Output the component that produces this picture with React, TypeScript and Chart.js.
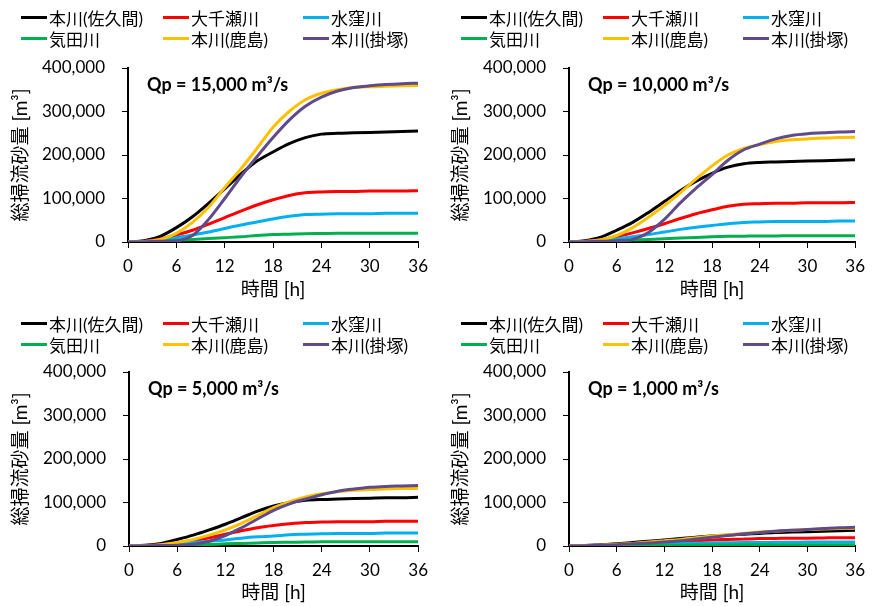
import React, { useEffect, useRef } from 'react';
import { Chart, registerables } from 'chart.js';

Chart.register(...registerables);

const HOURS = [0, 2, 4, 6, 8, 10, 12, 14, 16, 18, 20, 22, 24, 26, 28, 30, 32, 34, 36];
const SERIES_NAMES = ['本川(佐久間)', '大千瀬川', '水窪川', '気田川', '本川(鹿島)', '本川(掛塚)'];
const SERIES_COLORS = ['#000000', '#FF0000', '#00B0F0', '#00B050', '#FFC000', '#5F4B8B'];
const PANEL_LABELS = ['Qp = 15,000 m³/s', 'Qp = 10,000 m³/s', 'Qp = 5,000 m³/s', 'Qp = 1,000 m³/s'];
const Y_TITLE = '総掃流砂量 [m³]';
const X_TITLE = '時間 [h]';

// Qp = 15,000
const q15Sakuma = [0, 3000, 13000, 33000, 58000, 89000, 122000, 156000, 186000, 207000, 226000, 240000, 248000, 250000, 251000, 252000, 253000, 254000, 255000];
const q15Osenze = [0, 2000, 7000, 16000, 27000, 41000, 56000, 71000, 85000, 97000, 107000, 113000, 115000, 116000, 116000, 117000, 117000, 117000, 118000];
const q15Misakubo = [0, 1000, 4000, 10000, 16000, 23000, 31000, 39000, 46000, 53000, 59000, 63000, 64000, 65000, 65000, 65000, 66000, 66000, 66000];
const q15Keta = [0, 500, 2000, 4000, 6000, 8000, 10000, 12000, 15000, 17000, 18000, 19000, 19500, 20000, 20000, 20000, 20000, 20000, 20000];
const q15Kashima = [0, 1000, 6000, 20000, 45000, 80000, 125000, 168000, 215000, 264000, 300000, 327000, 342000, 350000, 355000, 357000, 358000, 359000, 360000];
const q15Kakezuka = [0, 500, 1500, 3000, 15000, 52000, 100000, 150000, 196000, 240000, 280000, 312000, 333000, 347000, 355000, 359000, 362000, 364000, 365000];

// Qp = 10,000
const q10Sakuma = [0, 3000, 11000, 27000, 45000, 68000, 93000, 118000, 140000, 158000, 172000, 180000, 183000, 184000, 185000, 186000, 187000, 188000, 189000];
const q10Osenze = [0, 1000, 5000, 12000, 21000, 31000, 42000, 54000, 65000, 74000, 82000, 87000, 88000, 89000, 89000, 90000, 90000, 90000, 91000];
const q10Misakubo = [0, 1000, 3000, 7000, 12000, 17000, 23000, 29000, 34000, 38000, 42000, 45000, 46000, 47000, 47000, 47000, 47000, 48000, 48000];
const q10Keta = [0, 300, 1000, 3000, 4500, 6000, 7500, 9000, 10500, 12000, 13000, 13500, 14000, 14000, 14500, 14500, 14500, 14500, 14500];
const q10Kashima = [0, 1000, 5000, 15000, 33000, 57000, 84000, 113000, 145000, 175000, 200000, 215000, 224000, 231000, 235000, 237000, 239000, 240000, 241000];
const q10Kakezuka = [0, 500, 1500, 3000, 6000, 22000, 52000, 90000, 124000, 155000, 188000, 212000, 225000, 237000, 245000, 249000, 251000, 253000, 254000];

// Qp = 5,000
const q5Sakuma = [0, 1500, 6000, 15000, 25000, 37000, 50000, 65000, 80000, 92000, 100000, 105000, 107000, 108000, 109000, 110000, 111000, 111000, 112000];
const q5Osenze = [0, 1000, 3000, 7000, 12000, 19000, 27000, 35000, 42000, 47000, 51000, 54000, 55000, 56000, 56000, 56000, 57000, 57000, 57000];
const q5Misakubo = [0, 500, 2000, 5000, 8000, 11000, 14000, 18000, 21000, 23000, 26000, 27000, 28000, 29000, 29000, 29000, 30000, 30000, 30000];
const q5Keta = [0, 200, 700, 1500, 2500, 3500, 5000, 6000, 7000, 8000, 8500, 9000, 9500, 10000, 10000, 10000, 10000, 10000, 10000];
const q5Kashima = [0, 1000, 3000, 8000, 15000, 25000, 37000, 52000, 70000, 88000, 102000, 113000, 120000, 125000, 128000, 130000, 131000, 132000, 132000];
const q5Kakezuka = [0, 300, 1000, 2000, 4000, 11000, 24000, 42000, 62000, 82000, 97000, 108000, 118000, 126000, 131000, 135000, 137000, 138000, 139000];

// Qp = 1,000
const q1Sakuma = [0, 1000, 3000, 5000, 8000, 11000, 14000, 17000, 20000, 23000, 25000, 27000, 29000, 31000, 32000, 33000, 34000, 35000, 36000];
const q1Osenze = [0, 500, 1000, 2000, 4000, 6000, 8000, 10000, 12000, 14000, 15000, 16000, 17000, 17500, 18000, 18000, 18500, 19000, 19000];
const q1Misakubo = [0, 300, 800, 1500, 2500, 3500, 4500, 5500, 6500, 7000, 7500, 8000, 8000, 8500, 8500, 9000, 9000, 9000, 9000];
const q1Keta = [0, 100, 300, 600, 1000, 1300, 1600, 1900, 2100, 2300, 2500, 2600, 2700, 2800, 2900, 3000, 3000, 3000, 3000];
const q1Kashima = [0, 1000, 2000, 4000, 6000, 9000, 12000, 15000, 19000, 23000, 26000, 29000, 32000, 34000, 36000, 38000, 39000, 40000, 41000];
const q1Kakezuka = [0, 500, 1500, 3000, 5000, 7000, 9000, 12000, 16000, 20000, 24000, 28000, 31000, 34000, 36000, 38000, 40000, 42000, 43000];

const PANEL_SERIES = [
  [q15Sakuma, q15Osenze, q15Misakubo, q15Keta, q15Kashima, q15Kakezuka],
  [q10Sakuma, q10Osenze, q10Misakubo, q10Keta, q10Kashima, q10Kakezuka],
  [q5Sakuma, q5Osenze, q5Misakubo, q5Keta, q5Kashima, q5Kakezuka],
  [q1Sakuma, q1Osenze, q1Misakubo, q1Keta, q1Kashima, q1Kakezuka],
];

const FONT = 'Lato, "Noto Sans CJK JP", sans-serif';

const LAYOUTS = [
  { left: 0, top: 0, width: 436, height: 303, plotLeft: 128, plotRight: 422, plotTop: 68, plotBottom: 242, legendY: 17 },
  { left: 440, top: 0, width: 433, height: 303, plotLeft: 569, plotRight: 862, plotTop: 68, plotBottom: 242, legendY: 17 },
  { left: 0, top: 303, width: 436, height: 303, plotLeft: 129, plotRight: 422, plotTop: 372, plotBottom: 546, legendY: 323 },
  { left: 440, top: 303, width: 433, height: 303, plotLeft: 569, plotRight: 862, plotTop: 372, plotBottom: 546, legendY: 323 },
];

const qpPlugin = {
  id: 'qpLabel',
  afterDraw(chart: any, _args: any, opts: any) {
    const { ctx, chartArea } = chart;
    ctx.save();
    ctx.font = `bold 18px ${FONT}`;
    ctx.fillStyle = '#000';
    ctx.textBaseline = 'middle';
    ctx.textAlign = 'left';
    ctx.fillText(opts.text, chartArea.left + 19, chartArea.top + 17);
    ctx.restore();
  },
};

function Panel({ index }: { index: number }) {
  const ref = useRef<HTMLCanvasElement | null>(null);
  const L = LAYOUTS[index];
  useEffect(() => {
    if (!ref.current) return;
    const series = PANEL_SERIES[index];
    const yWidth = L.plotLeft - L.left;
    const xHeight = L.top + L.height - L.plotBottom;
    const chart = new Chart(ref.current, {
      type: 'line',
      data: {
        datasets: series.map((vals, i) => ({
          label: SERIES_NAMES[i],
          data: HOURS.map((h, k) => ({ x: h, y: vals[k] })),
          borderColor: SERIES_COLORS[i],
          backgroundColor: SERIES_COLORS[i],
          borderWidth: 3,
          pointRadius: 0,
          cubicInterpolationMode: 'monotone' as const,
          fill: false,
          order: 6 - i,
        })),
      },
      options: {
        responsive: false,
        animation: false,
        events: [],
        layout: {
          padding: { top: L.plotTop - L.top, right: L.left + L.width - L.plotRight, left: 0, bottom: 0 },
        },
        plugins: {
          legend: { display: false },
          tooltip: { enabled: false },
          qpLabel: { text: PANEL_LABELS[index] },
        } as any,
        scales: {
          x: {
            type: 'linear',
            min: 0,
            max: 36,
            afterFit: (s: any) => { s.height = xHeight; },
            ticks: { stepSize: 6, color: '#000', font: { family: FONT, size: 17 }, padding: 8, maxRotation: 0 },
            grid: { display: true, drawOnChartArea: false, drawTicks: true, tickLength: 6, color: '#000', tickWidth: 1 },
            border: { display: true, color: '#000', width: 2 },
            title: { display: true, text: X_TITLE, color: '#000', font: { family: FONT, size: 19 }, padding: { top: 0, bottom: 2 } },
          },
          y: {
            type: 'linear',
            min: 0,
            max: 400000,
            afterFit: (s: any) => { s.width = yWidth; },
            ticks: {
              stepSize: 100000,
              color: '#000',
              font: { family: FONT, size: 17 },
              padding: 17,
              callback: (v: any) => Number(v).toLocaleString('en-US'),
            },
            grid: { display: true, drawOnChartArea: false, drawTicks: true, tickLength: 6, color: '#000', tickWidth: 1 },
            border: { display: true, color: '#000', width: 2 },
            title: { display: true, text: Y_TITLE, color: '#000', font: { family: FONT, size: 19 }, padding: { top: 9, bottom: 0 } },
          },
        },
      } as any,
      plugins: [qpPlugin as any],
    });
    return () => chart.destroy();
  }, [index]);

  const cols = [21, 163, 303];
  const rows = [L.legendY, L.legendY + 21.5];
  return (
    <>
      <canvas
        ref={ref}
        width={L.width}
        height={L.height}
        style={{ position: 'absolute', left: L.left, top: L.top, width: L.width, height: L.height }}
      />
      {SERIES_NAMES.map((name, i) => (
        <div
          key={name}
          style={{
            position: 'absolute',
            left: L.left + cols[i % 3],
            top: rows[Math.floor(i / 3)] - 11,
            height: 22,
            display: 'flex',
            alignItems: 'center',
            whiteSpace: 'nowrap',
            fontFamily: FONT,
            fontSize: 17,
            color: '#000',
          }}
        >
          <span style={{ display: 'inline-block', width: 26, height: 3, background: SERIES_COLORS[i], marginRight: 2 }} />
          <span>{name}</span>
        </div>
      ))}
    </>
  );
}

export default function App() {
  return (
    <div style={{ position: 'absolute', left: 0, top: 0, width: 873, height: 606, background: '#fff' }}>
      {LAYOUTS.map((_, i) => (
        <Panel key={i} index={i} />
      ))}
    </div>
  );
}
